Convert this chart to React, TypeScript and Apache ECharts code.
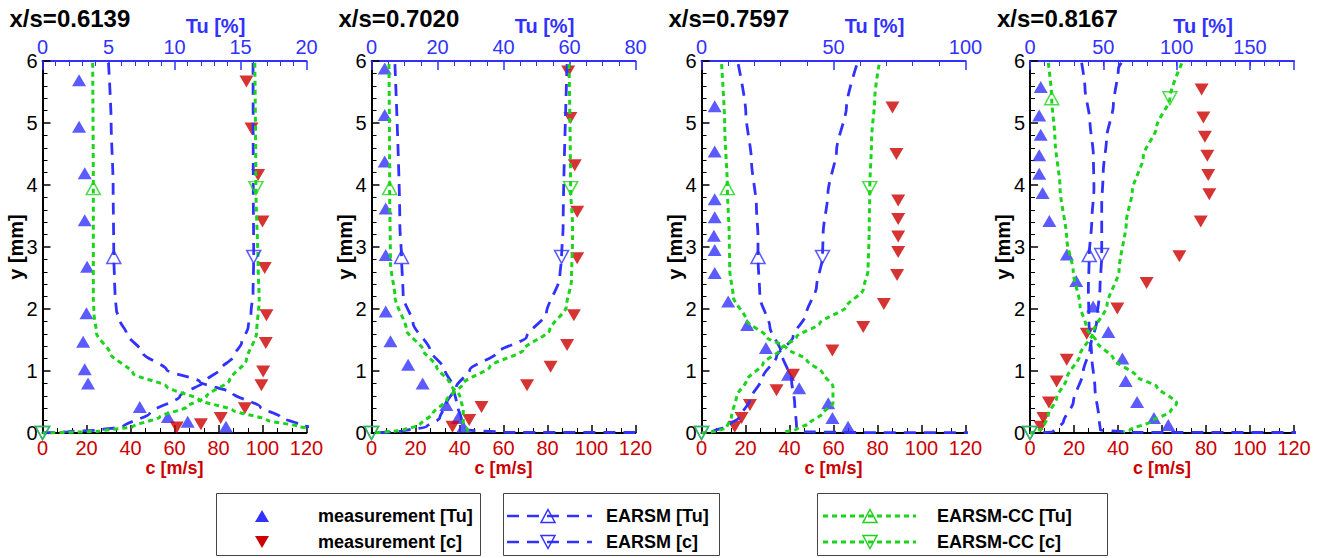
import React, { useEffect, useRef } from "react";
import * as echarts from "echarts";

type P = [number, number];

// ---------- texts / axis setup ----------
const PANEL_TITLES = ["x/s=0.6139", "x/s=0.7020", "x/s=0.7597", "x/s=0.8167"];
const C_MAX = 120;
const C_INTERVAL = 20;
const TU_MAX = [20, 80, 100, 180];
const TU_INTERVAL = [5, 20, 50, 50];
const TU_MINOR_SPLIT = [5, 4, 5, 5];
const Y_MAX = 6;
const EARSM_MARK_Y = [2.84, 2.84, 2.84, 2.87];
const CC_MARK_Y = [3.95, 3.95, 3.95, 5.4];
const TU_TITLE = "Tu [%]";
const LEGEND_LABELS = [
  "measurement [Tu]",
  "measurement [c]",
  "EARSM [Tu]",
  "EARSM [c]",
  "EARSM-CC [Tu]",
  "EARSM-CC [c]",
];

// ---------- panel 1 : x/s = 0.6139 ----------
const MEAS_TU_1: P[] = [[2.77, 5.69], [2.77, 4.94], [3.2, 4.19], [3.2, 3.43], [3.38, 2.68], [3.33, 1.93], [3.08, 1.47], [3.2, 1.03], [3.45, 0.8], [7.37, 0.42], [9.5, 0.26], [11.0, 0.18], [13.9, 0.1]];
const MEAS_C_1: P[] = [[92.7, 5.67], [95, 4.91], [98, 4.16], [100, 3.41], [101, 2.66], [101.8, 1.9], [101.5, 1.45], [100.3, 0.99], [99.5, 0.77], [92, 0.4], [81, 0.24], [72, 0.14], [61, 0.09]];
const EARSM_TU_1: P[] = [[5.0, 5.97], [5.2, 5.0], [5.35, 4.0], [5.4, 2.84], [5.45, 2.5], [5.5, 2.2], [5.6, 1.98], [5.85, 1.82], [6.36, 1.61], [7.6, 1.29], [9.4, 1.02], [11.9, 0.83], [14.4, 0.64], [16.5, 0.42], [18, 0.26], [19.5, 0.13], [21, 0.07], [30, 0.02], [60, 0.005]];
const EARSM_C_1: P[] = [[95.7, 5.97], [95.8, 4.0], [96, 2.84], [95.7, 2.25], [94.8, 1.95], [93.5, 1.71], [90.5, 1.45], [86.6, 1.23], [80.5, 1.02], [74.5, 0.85], [62.4, 0.59], [48.8, 0.32], [36.6, 0.1], [26, 0.05], [11, 0.02], [0, 0]];
const CC_TU_1: P[] = [[3.8, 5.97], [3.85, 3.95], [3.85, 2.15], [3.9, 1.93], [4.09, 1.61], [5.1, 1.29], [6.86, 0.96], [9.4, 0.75], [11.9, 0.53], [14.4, 0.37], [17, 0.21], [19.5, 0.1], [22, 0.06], [30, 0.03], [60, 0.01]];
const CC_C_1: P[] = [[96.5, 5.97], [97, 3.95], [98, 2.68], [98.5, 2.15], [97.3, 1.61], [92.7, 1.18], [85, 0.85], [74.5, 0.59], [65.5, 0.42], [53.3, 0.26], [41, 0.1], [26, 0.03], [0, 0]];

// ---------- panel 2 : x/s = 0.7020 ----------
const MEAS_TU_2: P[] = [[4.0, 5.88], [4.0, 5.13], [4.0, 4.38], [4.3, 3.62], [4.3, 2.87], [4.3, 1.96], [5.75, 1.48], [11.1, 1.1], [15.5, 0.8], [22.7, 0.45], [26.2, 0.24], [27.8, 0.1]];
const MEAS_C_2: P[] = [[89.4, 5.83], [90.4, 5.08], [92.4, 4.32], [93.5, 3.57], [93.5, 2.82], [92, 1.9], [88.9, 1.42], [81.4, 1.07], [70.7, 0.77], [50, 0.42], [44.4, 0.21], [36.8, 0.1]];
const EARSM_TU_2: P[] = [[7.1, 5.95], [8.6, 3.33], [9.1, 2.84], [9.6, 2.2], [12.6, 1.77], [17.7, 1.34], [22.2, 1.02], [24.7, 0.75], [25.8, 0.48], [27.3, 0.21], [28.8, 0.05], [40, 0.01], [200, 0.005]];
const EARSM_C_2: P[] = [[88.9, 5.95], [87.1, 3.33], [86.4, 2.84], [85.6, 2.52], [79.5, 1.93], [70.5, 1.55], [56.8, 1.29], [44.7, 1.02], [38.6, 0.75], [34.1, 0.48], [31, 0.24], [25, 0.1], [14, 0.03], [0, 0]];
const CC_TU_2: P[] = [[5.3, 5.95], [5.5, 3.95], [5.75, 2.74], [7.1, 2.2], [10.6, 1.66], [15.6, 1.34], [19.7, 1.07], [23.7, 0.8], [26.8, 0.59], [27.8, 0.37], [27.8, 0.16], [29, 0.05], [30, 0.01]];
const CC_C_2: P[] = [[89.8, 5.95], [90.5, 3.95], [91.4, 3.33], [91.4, 3.17], [90.9, 2.47], [88.6, 2.04], [81, 1.66], [68.9, 1.34], [53.8, 1.07], [41.6, 0.8], [34.1, 0.53], [28, 0.32], [22, 0.13], [14.4, 0.05], [0, 0]];

// ---------- panel 3 : x/s = 0.7597 ----------
const MEAS_TU_3: P[] = [[5.0, 5.27], [5.0, 4.54], [5.0, 3.77], [5.0, 3.48], [4.7, 3.18], [5.0, 2.95], [5.0, 2.58], [10.1, 2.12], [17.3, 1.74], [24.4, 1.37], [32.8, 0.94], [37, 0.72], [48, 0.48], [49.6, 0.24], [55.5, 0.1]];
const MEAS_C_3: P[] = [[86.8, 5.25], [88.6, 4.5], [89.4, 3.75], [89.4, 3.45], [89.4, 3.17], [89.4, 2.92], [88.9, 2.55], [82.9, 2.08], [73.5, 1.71], [59.5, 1.33], [41.6, 0.94], [34.1, 0.69], [22, 0.45], [18.2, 0.24], [15.1, 0.1]];
const EARSM_TU_3: P[] = [[13.9, 5.95], [16.8, 5.16], [18.9, 4.4], [20.8, 3.65], [21.4, 3.17], [21.4, 2.84], [22.1, 2.2], [25.9, 1.71], [30.3, 1.29], [34.1, 0.85], [35.3, 0.48], [36, 0.1], [38.5, 0.02], [60, 0.006], [300, 0.005]];
const EARSM_C_3: P[] = [[70.5, 5.93], [65.9, 5.26], [61.4, 4.56], [57.5, 3.87], [55.3, 3.22], [55, 2.84], [52.3, 2.36], [47.7, 1.93], [41.6, 1.55], [34.1, 1.23], [28, 0.91], [22, 0.53], [17.4, 0.26], [11.4, 0.1], [5.3, 0.03], [0, 0]];
const CC_TU_3: P[] = [[7.6, 5.95], [8.8, 4.94], [9.8, 3.95], [10.5, 3.17], [10.7, 2.63], [12, 2.2], [17, 1.82], [24.6, 1.55], [32.2, 1.37], [39.8, 1.18], [46, 0.96], [49.8, 0.75], [49.8, 0.48], [46, 0.32], [41, 0.16], [36, 0.06], [30.9, 0.02]];
const CC_C_3: P[] = [[80.7, 5.94], [78.8, 5.42], [77.3, 4.73], [76.5, 3.95], [76.2, 3.22], [75.7, 2.63], [73.5, 2.31], [65.9, 2.04], [53.8, 1.77], [43.2, 1.55], [35.6, 1.34], [28, 1.12], [20.5, 0.85], [15.9, 0.59], [13.6, 0.26], [11.4, 0.08], [6.8, 0.03], [0, 0]];

// ---------- panel 4 : x/s = 0.8167 ----------
const MEAS_TU_4: P[] = [[7.3, 5.58], [6.3, 5.12], [7.3, 4.81], [6.3, 4.48], [6.3, 4.18], [8.6, 3.87], [13.2, 3.42], [25.2, 2.88], [31.5, 2.45], [43.0, 2.04], [53.4, 1.63], [63.0, 1.2], [65.2, 0.84], [73.0, 0.5], [84.5, 0.24], [94.3, 0.13]];
const MEAS_C_4: P[] = [[78, 5.54], [78.8, 5.09], [79.5, 4.78], [80.6, 4.47], [81, 4.16], [81.5, 3.85], [77.6, 3.41], [67.9, 2.85], [53, 2.42], [39.7, 2.01], [25.8, 1.6], [16.7, 1.18], [12.1, 0.83], [8.6, 0.49], [6.1, 0.24], [4.8, 0.1]];
const EARSM_TU_4: P[] = [[35.2, 5.97], [37.5, 5.56], [40.9, 5.02], [43.2, 4.48], [43.6, 3.95], [42.1, 3.41], [40.4, 2.87], [39.8, 2.33], [40.2, 1.8], [42, 1.26], [44.3, 0.72], [47.3, 0.18], [48, 0.05], [70, 0.01], [400, 0.005]];
const EARSM_C_4: P[] = [[41.5, 5.97], [40.2, 5.88], [37.9, 5.29], [34.8, 4.75], [33.3, 4.21], [32.6, 3.68], [32.6, 2.87], [31.8, 2.33], [30.3, 1.8], [27.3, 1.37], [24.2, 0.99], [19.7, 0.5], [15.2, 0.18], [10.6, 0.02], [0, 0]];
const CC_TU_4: P[] = [[12.5, 5.97], [14.8, 5.4], [17, 4.75], [20.5, 3.95], [25, 3.14], [29.5, 2.6], [34.1, 2.06], [38.6, 1.69], [45.5, 1.47], [56.8, 1.2], [72.7, 0.91], [86.4, 0.75], [100, 0.48], [95.5, 0.34], [81.8, 0.18], [68.2, 0.05], [63.6, 0.02]];
const CC_C_4: P[] = [[69, 5.96], [63.6, 5.4], [57.6, 4.94], [51.5, 4.46], [46.5, 3.9], [43.8, 3.41], [40.5, 2.63], [35, 2.06], [28.8, 1.63], [22.7, 1.26], [16.7, 0.88], [12.1, 0.56], [8.3, 0.29], [6, 0.08], [3, 0.03], [0, 0]];

const PANELS = [
  { measTu: MEAS_TU_1, measC: MEAS_C_1, earsmTu: EARSM_TU_1, earsmC: EARSM_C_1, ccTu: CC_TU_1, ccC: CC_C_1 },
  { measTu: MEAS_TU_2, measC: MEAS_C_2, earsmTu: EARSM_TU_2, earsmC: EARSM_C_2, ccTu: CC_TU_2, ccC: CC_C_2 },
  { measTu: MEAS_TU_3, measC: MEAS_C_3, earsmTu: EARSM_TU_3, earsmC: EARSM_C_3, ccTu: CC_TU_3, ccC: CC_C_3 },
  { measTu: MEAS_TU_4, measC: MEAS_C_4, earsmTu: EARSM_TU_4, earsmC: EARSM_C_4, ccTu: CC_TU_4, ccC: CC_C_4 },
];

// ---------- styling / layout ----------
const FONT = '"Liberation Sans", Arial, Helvetica, sans-serif';
const BLUE = "#3232ff";
const RED = "#cc0000";
const GREEN = "#1dd41d";
const GRID_LEFT = [42.5, 371.5, 701.5, 1030];
const GRID_TOP = 61;
const GRID_W = 264;
const GRID_H = 372;
const DASH = [12, 8];
const DOT = [5, 4];

function buildOption() {
  const grid = GRID_LEFT.map((l) => ({
    left: l,
    top: GRID_TOP,
    width: GRID_W,
    height: GRID_H,
    containLabel: false,
    outerBoundsMode: "none",
  }));

  const xAxis: any[] = [];
  const cIdx: number[] = [];
  const tuIdx: number[] = [];

  for (let i = 0; i < 4; i++) {
    cIdx.push(xAxis.length);
    xAxis.push({
      type: "value",
      gridIndex: i,
      position: "bottom",
      min: 0,
      max: C_MAX,
      interval: C_INTERVAL,
      name: "c [m/s]",
      nameLocation: "middle",
      nameGap: 26,
      nameMoveOverlap: false,
      nameTextStyle: { color: RED, fontSize: 18, fontWeight: "bold", fontFamily: FONT },
      axisLine: { show: true, onZero: false, lineStyle: { color: "#000", width: 2 } },
      axisTick: { show: true, inside: true, length: 8, lineStyle: { color: "#000", width: 1.5 } },
      minorTick: { show: true, splitNumber: 3, length: 5, lineStyle: { color: "#000", width: 1 } },
      axisLabel: { color: RED, fontSize: 20, fontFamily: FONT, margin: 5, hideOverlap: false },
      splitLine: { show: false },
      minorSplitLine: { show: false },
    });

    const irregular = TU_MAX[i] % TU_INTERVAL[i] !== 0;
    tuIdx.push(xAxis.length);
    if (!irregular) {
      xAxis.push({
        type: "value",
        gridIndex: i,
        position: "top",
        min: 0,
        max: TU_MAX[i],
        interval: TU_INTERVAL[i],
        axisLine: { show: true, onZero: false, lineStyle: { color: BLUE, width: 2 } },
        axisTick: { show: true, inside: true, length: 9, lineStyle: { color: BLUE, width: 1.5 } },
        minorTick: { show: true, splitNumber: TU_MINOR_SPLIT[i], length: 5, lineStyle: { color: BLUE, width: 1 } },
        axisLabel: { color: BLUE, fontSize: 20, fontFamily: FONT, margin: 4, hideOverlap: false },
        splitLine: { show: false },
        minorSplitLine: { show: false },
      });
    } else {
      const minorStep = TU_INTERVAL[i] / TU_MINOR_SPLIT[i];
      xAxis.push({
        type: "value",
        gridIndex: i,
        position: "top",
        min: 0,
        max: TU_MAX[i],
        interval: minorStep,
        axisLine: { show: true, onZero: false, lineStyle: { color: BLUE, width: 2 } },
        axisTick: { show: true, inside: true, length: 5, lineStyle: { color: BLUE, width: 1 } },
        axisLabel: {
          color: BLUE,
          fontSize: 20,
          fontFamily: FONT,
          margin: 4,
          hideOverlap: false,
          showMaxLabel: false,
          formatter: (v: number) => (v % TU_INTERVAL[i] === 0 ? String(v) : ""),
        },
        splitLine: { show: false },
      });
      xAxis.push({
        type: "value",
        gridIndex: i,
        position: "top",
        min: 0,
        max: TU_MAX[i],
        interval: TU_INTERVAL[i],
        axisLine: { show: false, onZero: false },
        axisTick: { show: true, inside: true, length: 9, lineStyle: { color: BLUE, width: 1.5 } },
        axisLabel: { show: false },
        splitLine: { show: false },
      });
    }
  }

  const yAxis = GRID_LEFT.map((_, i) => ({
    type: "value",
    gridIndex: i,
    position: "left",
    min: 0,
    max: Y_MAX,
    interval: 1,
    name: "y [mm]",
    nameLocation: "middle",
    nameGap: 17,
    nameMoveOverlap: false,
    nameTextStyle: { color: "#000", fontSize: 20, fontWeight: "bold", fontFamily: FONT },
    axisLine: { show: true, onZero: false, lineStyle: { color: "#000", width: 2 } },
    axisTick: { show: true, inside: true, length: 8, lineStyle: { color: "#000", width: 1.5 } },
    minorTick: { show: true, splitNumber: 5, length: 5, lineStyle: { color: "#000", width: 1 } },
    axisLabel: { color: "#000", fontSize: 20, fontFamily: FONT, margin: 5, hideOverlap: false },
    splitLine: { show: false },
    minorSplitLine: { show: false },
  }));

  const series: any[] = [];
  const lineS = (data: P[], xi: number, yi: number, color: string, dash: number[], width: number, z: number) => ({
    type: "line",
    xAxisIndex: xi,
    yAxisIndex: yi,
    data,
    symbol: "none",
    showSymbol: false,
    smooth: 0.25,
    smoothMonotone: "y",
    clip: true,
    silent: true,
    lineStyle: { color, width, type: dash, cap: "butt" },
    z,
  });
  const markS = (pts: P[], xi: number, yi: number, color: string, down: boolean) => ({
    type: "scatter",
    xAxisIndex: xi,
    yAxisIndex: yi,
    data: pts,
    symbol: "triangle",
    symbolRotate: down ? 180 : 0,
    symbolSize: [14, 13],
    clip: false,
    silent: true,
    itemStyle: { color: "rgba(0,0,0,0)", borderColor: color, borderWidth: 1.5 },
    z: 6,
  });
  const at = (line: P[], y: number) => line[line.findIndex((p) => p[1] === y)];

  PANELS.forEach((p, i) => {
    series.push({
      type: "scatter",
      xAxisIndex: tuIdx[i],
      yAxisIndex: i,
      data: p.measTu,
      symbol: "triangle",
      symbolSize: [14, 12],
      clip: false,
      silent: true,
      itemStyle: { color: BLUE },
      z: 2,
    });
    series.push({
      type: "scatter",
      xAxisIndex: cIdx[i],
      yAxisIndex: i,
      data: p.measC,
      symbol: "triangle",
      symbolRotate: 180,
      symbolSize: [14, 12],
      clip: false,
      silent: true,
      itemStyle: { color: RED },
      z: 2,
    });
    series.push(lineS(p.earsmTu, tuIdx[i], i, BLUE, DASH, 2.8, 3));
    series.push(lineS(p.earsmC, cIdx[i], i, BLUE, DASH, 2.8, 3));
    series.push(lineS(p.ccTu, tuIdx[i], i, GREEN, DOT, 3, 4));
    series.push(lineS(p.ccC, cIdx[i], i, GREEN, DOT, 3, 4));
    series.push(markS([at(p.earsmTu, EARSM_MARK_Y[i])], tuIdx[i], i, BLUE, false));
    series.push(markS([at(p.earsmC, EARSM_MARK_Y[i]), p.earsmC[p.earsmC.length - 1]], cIdx[i], i, BLUE, true));
    series.push(markS([at(p.ccTu, CC_MARK_Y[i])], tuIdx[i], i, GREEN, false));
    series.push(markS([at(p.ccC, CC_MARK_Y[i]), p.ccC[p.ccC.length - 1]], cIdx[i], i, GREEN, true));
  });

  // ---------- graphic: titles + legend ----------
  const tri = (cx: number, cy: number, down: boolean, w: number, h: number) =>
    down
      ? [[cx - w / 2, cy - h / 2], [cx + w / 2, cy - h / 2], [cx, cy + h / 2]]
      : [[cx, cy - h / 2], [cx + w / 2, cy + h / 2], [cx - w / 2, cy + h / 2]];
  const text = (x: number, y: number, t: string, size: number, fill = "#000", align = "left") => ({
    type: "text",
    x,
    y,
    silent: true,
    style: { text: t, font: `bold ${size}px ${FONT}`, fill, verticalAlign: "middle", align },
  });
  const box = (x: number, w: number) => ({
    type: "rect",
    silent: true,
    shape: { x: x + 0.5, y: 493.5, width: w, height: 62 },
    style: { fill: "none", stroke: "#444", lineWidth: 1 },
  });
  const legLine = (x1: number, x2: number, y: number, color: string, dash: number[], w: number) => ({
    type: "line",
    silent: true,
    shape: { x1, y1: y, x2, y2: y },
    style: { stroke: color, lineWidth: w, lineDash: dash },
  });
  const poly = (pts: number[][], fill: string, stroke?: string) => ({
    type: "polygon",
    silent: true,
    shape: { points: pts },
    style: stroke ? { fill: "none", stroke, lineWidth: 1.5 } : { fill },
  });

  const LY1 = 516;
  const LY2 = 542;
  const graphic: any[] = [
    ...PANEL_TITLES.map((t, i) => text(GRID_LEFT[i] - 33, 18.5, t, 24)),
    ...GRID_LEFT.map((l) => text(l + 173, 26, TU_TITLE, 20, BLUE, "center")),
    box(216, 264),
    poly(tri(262, LY1, false, 14, 12), BLUE),
    poly(tri(262, LY2, true, 14, 12), RED),
    text(318, LY1, LEGEND_LABELS[0], 18),
    text(318, LY2, LEGEND_LABELS[1], 18),
    box(503, 216),
    legLine(507, 592, LY1, BLUE, DASH, 2.5),
    legLine(507, 592, LY2, BLUE, DASH, 2.5),
    poly(tri(548, LY1, false, 14, 13), "", BLUE),
    poly(tri(548, LY2, true, 14, 13), "", BLUE),
    text(606, LY1, LEGEND_LABELS[2], 18),
    text(606, LY2, LEGEND_LABELS[3], 18),
    box(817, 290),
    legLine(823, 916, LY1, GREEN, DOT, 3),
    legLine(823, 916, LY2, GREEN, DOT, 3),
    poly(tri(870, LY1, false, 14, 13), "", GREEN),
    poly(tri(870, LY2, true, 14, 13), "", GREEN),
    text(937, LY1, LEGEND_LABELS[4], 18),
    text(937, LY2, LEGEND_LABELS[5], 18),
  ];

  return {
    animation: false,
    backgroundColor: "#ffffff",
    textStyle: { fontFamily: FONT },
    grid,
    xAxis,
    yAxis,
    series,
    graphic,
  };
}

export default function App() {
  const ref = useRef<HTMLDivElement>(null);
  useEffect(() => {
    if (!ref.current) return;
    const chart = echarts.init(ref.current, null, { renderer: "svg" });
    chart.setOption(buildOption() as any);
    return () => chart.dispose();
  }, []);
  return (
    <div
      ref={ref}
      style={{ position: "absolute", left: 0, top: 0, width: 1335, height: 558, background: "#fff" }}
    />
  );
}
